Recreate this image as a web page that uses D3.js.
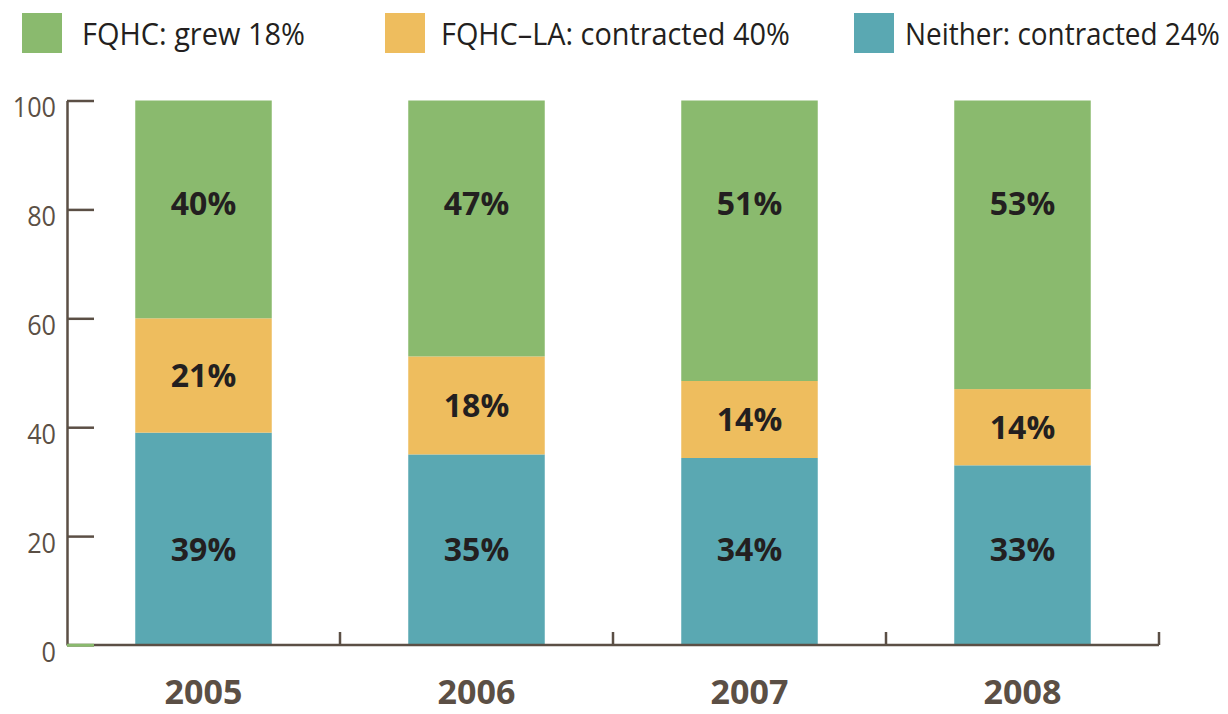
<!DOCTYPE html>
<html>
<head>
<meta charset="utf-8">
<script src="https://cdn.jsdelivr.net/npm/d3@7"></script>
<style>
  body { margin: 0; background: #fff; }
  svg { display: block; font-family: "Open Sans", sans-serif; }
</style>
</head>
<body>
<div id="chart"></div>
<script>
// data
const years = ['2005', '2006', '2007', '2008'];
const neither = [39, 35, 34, 33];
const fqhcLA = [21, 18, 14, 14];
const fqhc = [40, 47, 51, 53];
const yTicks = [0, 20, 40, 60, 80, 100];
const legendLabels = ['FQHC: grew 18%', 'FQHC\u2013LA: contracted 40%', 'Neither: contracted 24%'];

const width = 1228, height = 714;
const colors = { fqhc: '#8aba6e', la: '#eebd5e', neither: '#5aa8b2' };
const axisColor = '#5b4f45';

const svg = d3.select('#chart').append('svg')
    .attr('width', width).attr('height', height);

const x = d3.scaleBand().domain(years).range([67, 1159])
    .paddingInner(0.5).paddingOuter(0.25);
const y = d3.scaleLinear().domain([0, 100]).range([645, 100.5]);

// stacked series, bottom to top; shares are rounded so each bar is scaled to fill 100
const rows = years.map((yr, i) => ({ year: yr, neither: neither[i], la: fqhcLA[i], fqhc: fqhc[i] }));
const stack = d3.stack().keys(['neither', 'la', 'fqhc']).offset(d3.stackOffsetExpand)(rows);

const g = svg.append('g');
stack.forEach(s => {
    g.selectAll(null).data(s).enter().append('rect')
        .attr('x', d => x(d.data.year))
        .attr('width', x.bandwidth())
        .attr('y', d => y(d[1] * 100))
        .attr('height', d => y(d[0] * 100) - y(d[1] * 100))
        .attr('fill', colors[s.key]);
});

// value labels
stack.forEach(s => {
    g.selectAll(null).data(s).enter().append('text')
        .attr('x', d => x(d.data.year) + x.bandwidth() / 2)
        .attr('y', d => {
            if (s.key === 'neither') return y(17.5);
            if (s.key === 'fqhc') return y(81);
            return y((d[0] + d[1]) * 50);
        })
        .attr('dy', '0.36em')
        .attr('text-anchor', 'middle')
        .attr('font-size', 32).attr('font-weight', 700)
        .attr('fill', '#231f20')
        .text(d => d.data[s.key] + '%');
});

// y axis
const yAxis = svg.append('g').attr('transform', 'translate(67,0)')
    .call(d3.axisLeft(y).tickValues(yTicks).tickSizeInner(-27).tickSizeOuter(0).tickPadding(11));
yAxis.select('.domain').attr('stroke', axisColor).attr('stroke-width', 2.5);
yAxis.selectAll('.tick line').attr('stroke', d => d === 0 ? colors.fqhc : axisColor).attr('stroke-width', 2.5);
yAxis.selectAll('.tick text')
    .attr('font-size', 28).attr('fill', axisColor)
    .attr('font-family', '"Open Sans", sans-serif')
    .attr('dy', '0.58em')
    .attr('transform', 'scale(0.9,1)')
    .attr('x', -11 / 0.9);

// x axis
const bounds = years.slice(1).map(d => x(d) - (x.step() - x.bandwidth()) / 2).concat([x.range()[1]]);
const xAxis = svg.append('g');
xAxis.append('line')
    .attr('x1', 67).attr('x2', x.range()[1])
    .attr('y1', y(0)).attr('y2', y(0))
    .attr('stroke', axisColor).attr('stroke-width', 2.5);
xAxis.selectAll(null).data(bounds).enter().append('line')
    .attr('x1', d => d).attr('x2', d => d)
    .attr('y1', y(0)).attr('y2', y(0) - 13)
    .attr('stroke', axisColor).attr('stroke-width', 2.5);
svg.append('line')
    .attr('x1', 67).attr('x2', 94).attr('y1', y(0)).attr('y2', y(0))
    .attr('stroke', colors.fqhc).attr('stroke-width', 2.5);
xAxis.selectAll(null).data(years).enter().append('text')
    .attr('x', d => x(d) + x.bandwidth() / 2)
    .attr('y', 704)
    .attr('text-anchor', 'middle')
    .attr('font-size', 34).attr('font-weight', 700)
    .attr('fill', axisColor)
    .text(d => d);

// legend (text squeezed horizontally to the reference's condensed width)
const legendX = [22, 385, 854];
const legendText = [82, 441, 905];
const legendW = [223, 349, 315];
const legendCol = [colors.fqhc, colors.la, colors.neither];
const legend = svg.append('g');
legendLabels.forEach((t, i) => {
    legend.append('rect')
        .attr('x', legendX[i]).attr('y', 13)
        .attr('width', 40).attr('height', 40)
        .attr('fill', legendCol[i]);
    const txt = legend.append('text')
        .attr('font-size', 31).attr('fill', '#231f20')
        .text(t);
    const sx = legendW[i] / txt.node().getComputedTextLength();
    txt.attr('transform', `translate(${legendText[i]},45) scale(${sx},1)`);
});
</script>
</body>
</html>
